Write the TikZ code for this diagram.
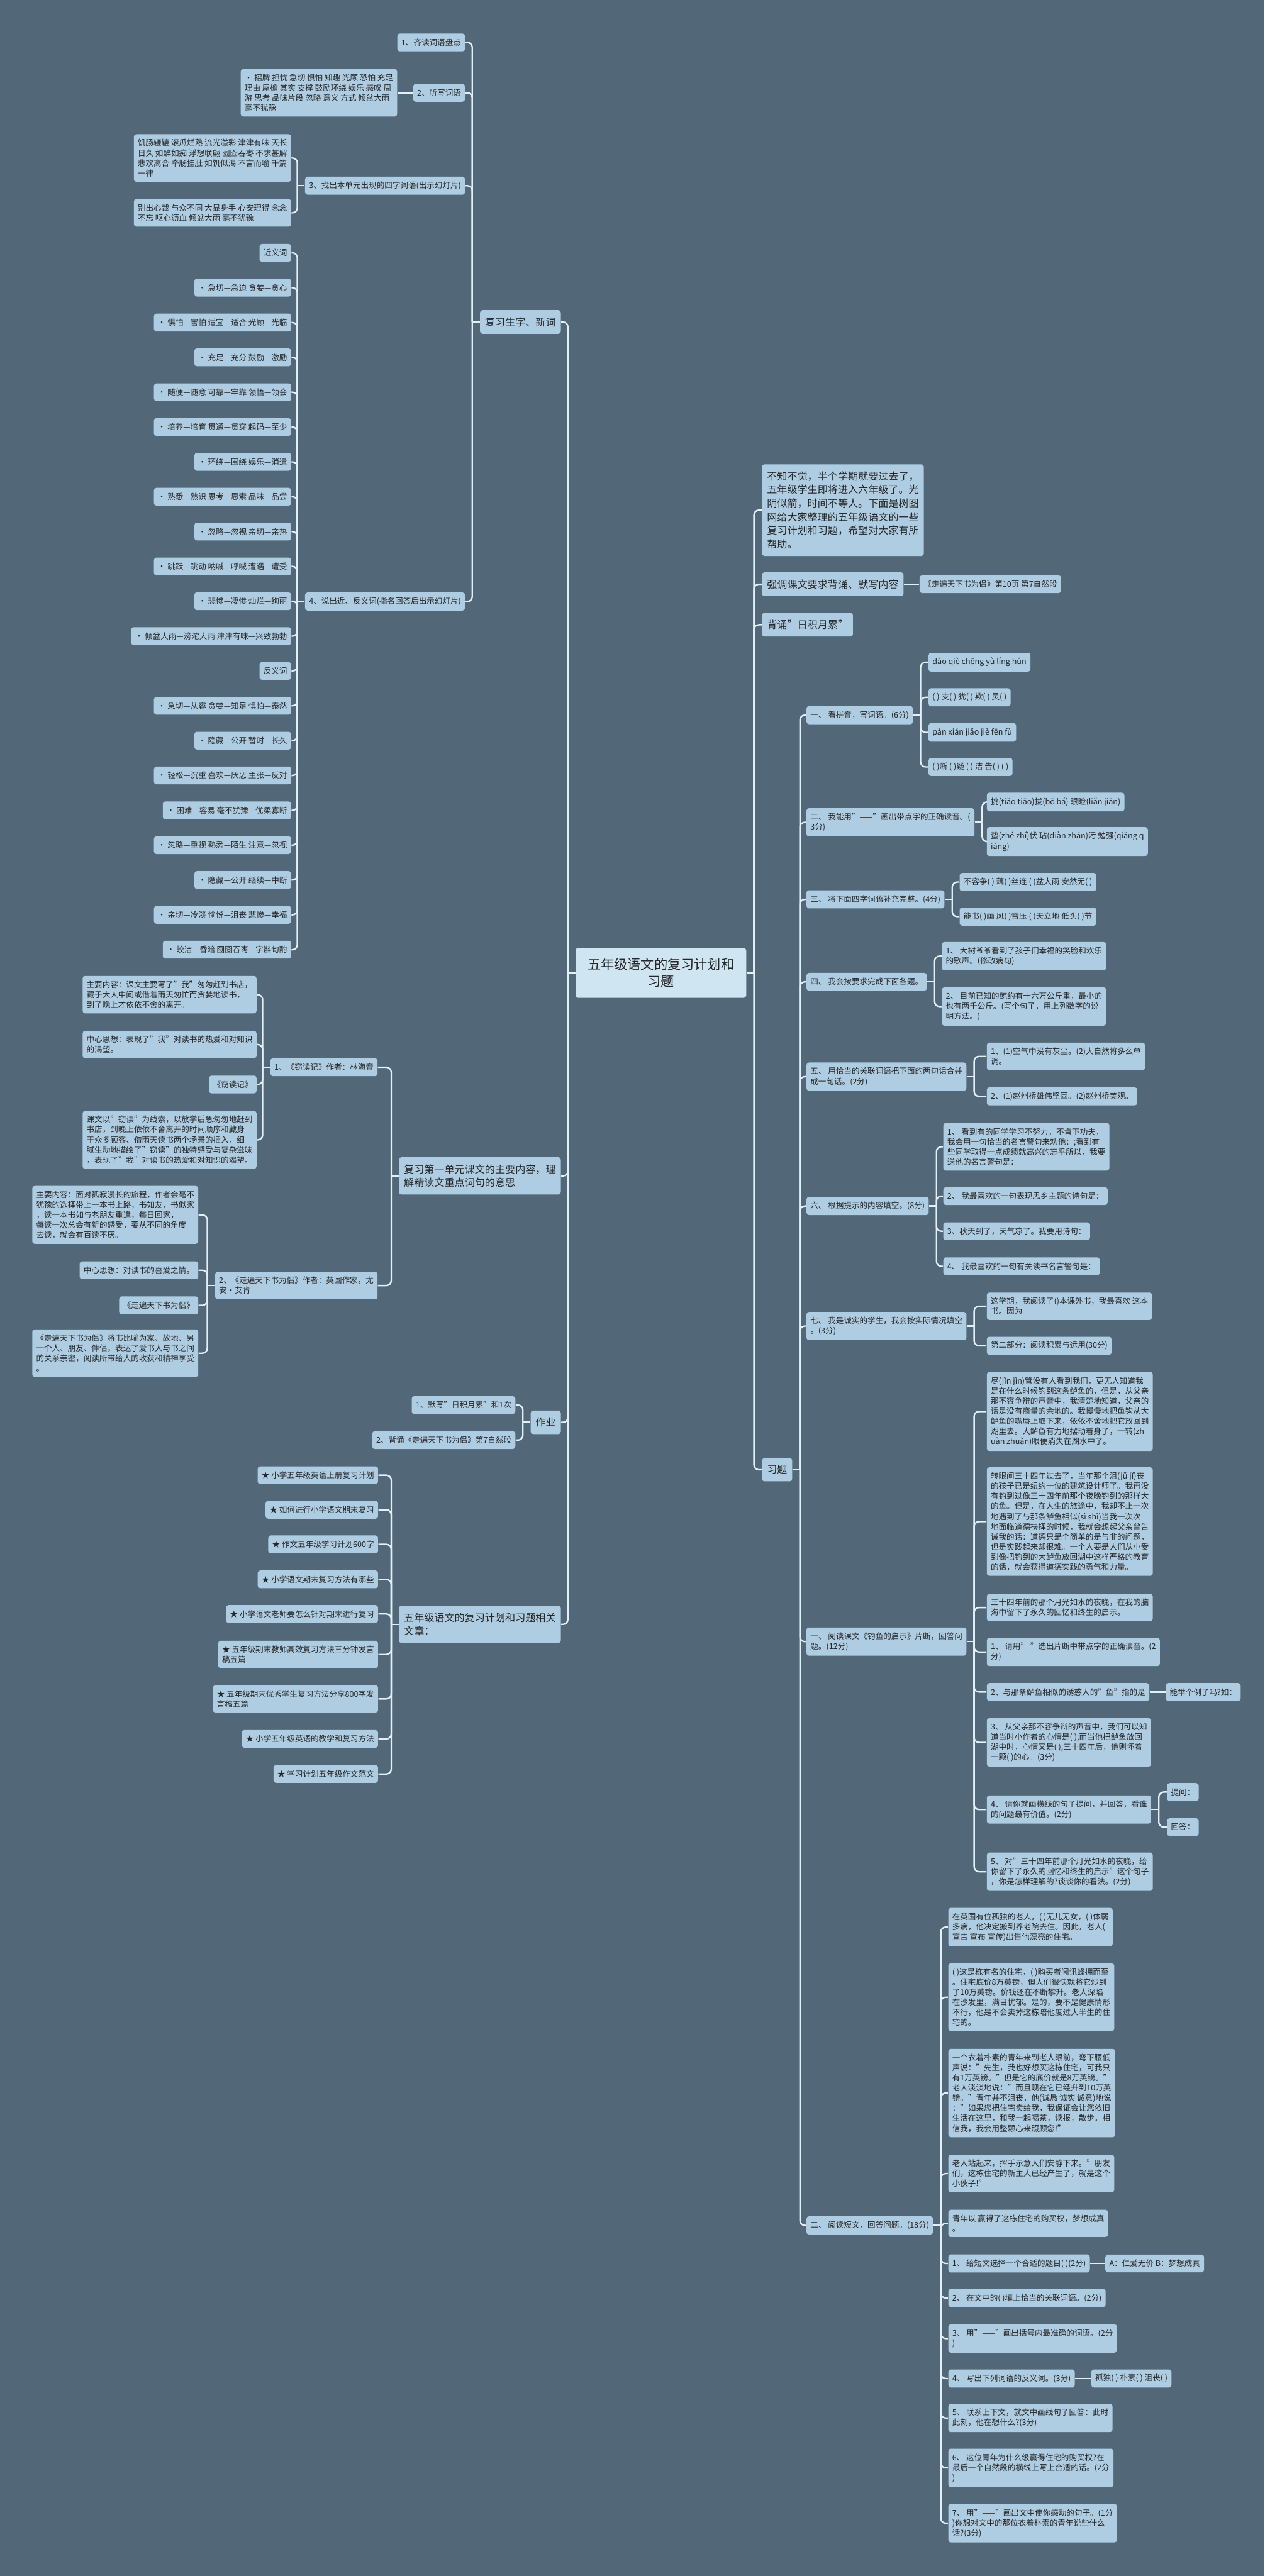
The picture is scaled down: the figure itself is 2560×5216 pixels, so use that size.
\documentclass[tikz,border=0pt]{standalone}
\usepackage{fontspec}
\setmainfont{Noto Sans CJK SC}
\usepackage{tikz}
\usetikzlibrary{positioning}
\definecolor{bgcol}{RGB}{82,104,120}
\definecolor{boxcol}{RGB}{174,204,226}
\definecolor{rootcol}{RGB}{207,229,242}
\definecolor{linecol}{RGB}{226,240,250}
\definecolor{inkcol}{RGB}{38,38,38}
\tikzstyle{leafbox} = [rectangle, rounded corners=0.05cm, fill=boxcol, text=inkcol, align=left, inner xsep=0.08cm, inner ysep=0.1cm, minimum height=0.36cm, font=\fontsize{4.55}{5.83}\selectfont]
\tikzstyle{topicbox} = [leafbox, inner xsep=0.1cm, inner ysep=0.145cm, minimum height=0.47cm, font=\fontsize{5.83}{7.82}\selectfont]
\tikzstyle{mainbox} = [leafbox, fill=rootcol, align=center, inner xsep=0.2cm, inner ysep=0.21cm, minimum width=3.45cm, font=\fontsize{7.68}{9.67}\selectfont]
\tikzstyle{edgeline} = [draw=linecol, line width=0.85pt]

\begin{document}
\begin{tikzpicture}[x=0.01cm, y=-0.01cm]
	\fill[bgcol] (0,0) rectangle (2560,5216);
	\useasboundingbox (0,0) rectangle (2560,5216);

	\node[mainbox] (root) at (1338,1970) {五年级语文的复习计划和\\习题};

	\node[topicbox, anchor=east] (words) at (1136,652) {复习生字、新词};
	\node[topicbox, anchor=east] (unit) at (1136,2381) {复习第一单元课文的主要内容，理\\解精读文重点词句的意思};
	\node[topicbox, anchor=east] (homework) at (1136,2880) {作业};
	\node[topicbox, anchor=east] (articles) at (1136,3289) {五年级语文的复习计划和习题相关\\文章：};

	\node[leafbox, anchor=east] (w_read) at (942,86) {1、齐读词语盘点};
	\node[leafbox, anchor=east] (w_dict) at (942,188) {2、听写词语};
	\node[leafbox, left=0.31cm of w_dict] (w_dict_list) {• 招牌 担忧 急切 惧怕 知趣 光顾 恐怕 充足\\理由 屋檐 其实 支撑 鼓励环绕 娱乐 感叹 周\\游 思考 品味片段 忽略 意义 方式 倾盆大雨\\毫不犹豫};
	\node[leafbox, anchor=east] (w_four) at (942,376) {3、找出本单元出现的四字词语(出示幻灯片)};
	\node[leafbox, anchor=east] (w_four_a) at (590,320) {饥肠辘辘 滚瓜烂熟 流光溢彩 津津有味 天长\\日久 如醉如痴 浮想联翩 囫囵吞枣 不求甚解\\悲欢离合 牵肠挂肚 如饥似渴 不言而喻 千篇\\一律};
	\node[leafbox, anchor=east] (w_four_b) at (590,431) {别出心裁 与众不同 大显身手 心安理得 念念\\不忘 呕心沥血 倾盆大雨 毫不犹豫};
	\node[leafbox, anchor=east] (w_syn) at (942,1218) {4、说出近、反义词(指名回答后出示幻灯片)};

	\draw[edgeline] (w_syn.west) -- ++(-15,0);
	\foreach \t [count=\i from 0] in {近义词, • 急切—急迫 贪婪—贪心, • 惧怕—害怕 适宜—适合 光顾—光临,
		• 充足—充分 鼓励—激励, • 随便—随意 可靠—牢靠 领悟—领会, • 培养—培育 贯通—贯穿 起码—至少,
		• 环绕—围绕 娱乐—消遣, • 熟悉—熟识 思考—思索 品味—品尝, • 忽略—忽视 亲切—亲热,
		• 跳跃—跳动 呐喊—呼喊 遭遇—遭受, • 悲惨—凄惨 灿烂—绚丽, • 倾盆大雨—滂沱大雨 津津有味—兴致勃勃,
		反义词, • 急切—从容 贪婪—知足 惧怕—泰然, • 隐藏—公开 暂时—长久, • 轻松—沉重 喜欢—厌恶 主张—反对,
		• 困难—容易 毫不犹豫—优柔寡断, • 忽略—重视 熟悉—陌生 注意—忽视, • 隐藏—公开 继续—中断,
		• 亲切—冷淡 愉悦—沮丧 悲惨—幸福, • 皎洁—昏暗 囫囵吞枣—字斟句酌}{
		\node[leafbox, anchor=east] (syn_\i) at (590,{512+70.55*\i}) {\t};
		\draw[edgeline, rounded corners=0.1cm] (w_syn.west) ++(-15,0) |- (syn_\i.east);
	}

	\node[leafbox, anchor=east] (u_thief) at (765,2161) {1、《窃读记》作者：林海音};
	\node[leafbox, anchor=east] (thief_a) at (520,2014) {主要内容：课文主要写了"我"匆匆赶到书店，\\藏于大人中间或借着雨天匆忙而贪婪地读书，\\到了晚上才依依不舍的离开。};
	\node[leafbox, anchor=east] (thief_b) at (520,2115) {中心思想：表现了"我"对读书的热爱和对知识\\的渴望。};
	\node[leafbox, anchor=east] (thief_c) at (520,2196) {《窃读记》};
	\node[leafbox, anchor=east] (thief_d) at (520,2308) {课文以"窃读"为线索，以放学后急匆匆地赶到\\书店，到晚上依依不舍离开的时间顺序和藏身\\于众多顾客、借雨天读书两个场景的插入，细\\腻生动地描绘了"窃读"的独特感受与复杂滋味\\，表现了"我"对读书的热爱和对知识的渴望。};
	\node[leafbox, anchor=east] (u_travel) at (765,2603) {2、《走遍天下书为侣》作者：英国作家，尤\\安·艾肯};
	\node[leafbox, anchor=east] (travel_a) at (402,2460) {主要内容：面对孤寂漫长的旅程，作者会毫不\\犹豫的选择带上一本书上路，书如友，书似家\\，读一本书如与老朋友重逢，每日回家，\\每读一次总会有新的感受，要从不同的角度\\去读，就会有百读不厌。};
	\node[leafbox, anchor=east] (travel_b) at (402,2572) {中心思想：对读书的喜爱之情。};
	\node[leafbox, anchor=east] (travel_c) at (402,2643) {《走遍天下书为侣》};
	\node[leafbox, anchor=east] (travel_d) at (402,2740) {《走遍天下书为侣》将书比喻为家、故地、另\\一个人、朋友、伴侣，表达了爱书人与书之间\\的关系亲密，阅读所带给人的收获和精神享受\\。};

	\node[leafbox, anchor=east] (hw_a) at (1044,2845) {1、默写"日积月累"和1次};
	\node[leafbox, anchor=east] (hw_b) at (1044,2916) {2、背诵《走遍天下书为侣》第7自然段};

	\node[leafbox, anchor=east] (art_1) at (766,2987) {★ 小学五年级英语上册复习计划};
	\node[leafbox, anchor=east] (art_2) at (766,3057) {★ 如何进行小学语文期末复习};
	\node[leafbox, anchor=east] (art_3) at (766,3127) {★ 作文五年级学习计划600字};
	\node[leafbox, anchor=east] (art_4) at (766,3198) {★ 小学语文期末复习方法有哪些};
	\node[leafbox, anchor=east] (art_5) at (766,3268) {★ 小学语文老师要怎么针对期末进行复习};
	\node[leafbox, anchor=east] (art_6) at (766,3350) {★ 五年级期末教师高效复习方法三分钟发言\\稿五篇};
	\node[leafbox, anchor=east] (art_7) at (766,3440) {★ 五年级期末优秀学生复习方法分享800字发\\言稿五篇};
	\node[leafbox, anchor=east] (art_8) at (766,3521) {★ 小学五年级英语的教学和复习方法};
	\node[leafbox, anchor=east] (art_9) at (766,3592) {★ 学习计划五年级作文范文};

	\node[topicbox, anchor=west] (intro) at (1542,1033) {不知不觉，半个学期就要过去了，\\五年级学生即将进入六年级了。光\\阴似箭，时间不等人。下面是树图\\网给大家整理的五年级语文的一些\\复习计划和习题，希望对大家有所\\帮助。};
	\node[topicbox, anchor=west] (recite) at (1542,1183) {强调课文要求背诵、默写内容};
	\node[leafbox, right=0.31cm of recite] (recite_text) {《走遍天下书为侣》第10页 第7自然段};
	\node[topicbox, anchor=west] (recite_daily) at (1542,1265) {背诵"日积月累"};
	\node[topicbox, anchor=west] (exercises) at (1542,2976) {习题};

	\node[leafbox, anchor=west] (q_1) at (1632,1448) {一、 看拼音，写词语。(6分)};
	\node[leafbox, anchor=west] (q_1a) at (1879,1341) {dào qiè chēng yù líng hún};
	\node[leafbox, anchor=west] (q_1b) at (1879,1412) {( ) 支( ) 犹( ) 欺( ) 灵( )};
	\node[leafbox, anchor=west] (q_1c) at (1879,1483) {pàn xián jiǎo jiè fēn fù};
	\node[leafbox, anchor=west] (q_1d) at (1879,1553) {( )断 ( )疑 ( ) 洁 告( ) ( )};
	\node[leafbox, anchor=west] (q_2) at (1632,1665) {二、 我能用"——"画出带点字的正确读音。(\\3分)};
	\node[leafbox, anchor=west] (q_2a) at (1997,1624) {挑(tiǎo tiāo)拔(bō bá) 眼睑(liǎn jiǎn)};
	\node[leafbox, anchor=west] (q_2b) at (1997,1704) {蛰(zhé zhí)伏 玷(diàn zhān)污 勉强(qiǎng q\\iáng)};
	\node[leafbox, anchor=west] (q_3) at (1632,1821) {三、 将下面四字词语补充完整。(4分)};
	\node[leafbox, anchor=west] (q_3a) at (1942,1786) {不容争( ) 藕( )丝连 ( )盆大雨 安然无( )};
	\node[leafbox, anchor=west] (q_3b) at (1942,1856) {能书( )画 风( )雪压 ( )天立地 低头( )节};
	\node[leafbox, anchor=west] (q_4) at (1632,1988) {四、 我会按要求完成下面各题。};
	\node[leafbox, anchor=west] (q_4a) at (1906,1936) {1、 大树爷爷看到了孩子们幸福的笑脸和欢乐\\的歌声。(修改病句)};
	\node[leafbox, anchor=west] (q_4b) at (1906,2038) {2、 目前已知的鲸约有十六万公斤重，最小的\\也有两千公斤。(写个句子，用上列数字的说\\明方法。)};
	\node[leafbox, anchor=west] (q_5) at (1632,2180) {五、 用恰当的关联词语把下面的两句话合并\\成一句话。(2分)};
	\node[leafbox, anchor=west] (q_5a) at (1997,2139) {1、(1)空气中没有灰尘。(2)大自然将多么单\\调。};
	\node[leafbox, anchor=west] (q_5b) at (1997,2220) {2、(1)赵州桥雄伟坚固。(2)赵州桥美观。};
	\node[leafbox, anchor=west] (q_6) at (1632,2442) {六、 根据提示的内容填空。(8分)};
	\node[leafbox, anchor=west] (q_6a) at (1909,2322) {1、 看到有的同学学习不努力，不肯下功夫，\\我会用一句恰当的名言警句来劝他：;看到有\\些同学取得一点成绩就高兴的忘乎所以，我要\\送他的名言警句是：};
	\node[leafbox, anchor=west] (q_6b) at (1909,2422) {2、 我最喜欢的一句表现思乡主题的诗句是：};
	\node[leafbox, anchor=west] (q_6c) at (1909,2493) {3、秋天到了，天气凉了。我要用诗句：};
	\node[leafbox, anchor=west] (q_6d) at (1909,2564) {4、 我最喜欢的一句有关读书名言警句是：};
	\node[leafbox, anchor=west] (q_7) at (1632,2685) {七、 我是诚实的学生，我会按实际情况填空\\。(3分)};
	\node[leafbox, anchor=west] (q_7a) at (1997,2645) {这学期，我阅读了()本课外书，我最喜欢 这本\\书。因为};
	\node[leafbox, anchor=west] (q_7b) at (1997,2725) {第二部分：阅读积累与运用(30分)};

	\node[leafbox, anchor=west] (read_1) at (1632,3324) {一、 阅读课文《钓鱼的启示》片断，回答问\\题。(12分)};
	\node[leafbox, anchor=west] (read_1a) at (1997,2858) {尽(jǐn jìn)管没有人看到我们，更无人知道我\\是在什么时候钓到这条鲈鱼的，但是，从父亲\\那不容争辩的声音中，我清楚地知道，父亲的\\话是没有商量的余地的。我慢慢地把鱼钩从大\\鲈鱼的嘴唇上取下来，依依不舍地把它放回到\\湖里去。大鲈鱼有力地摆动着身子，一转(zh\\uàn zhuǎn)眼便消失在湖水中了。};
	\node[leafbox, anchor=west] (read_1b) at (1997,3081) {转眼间三十四年过去了，当年那个沮(jǔ jǐ)丧\\的孩子已是纽约一位的建筑设计师了。我再没\\有钓到过像三十四年前那个夜晚钓到的那样大\\的鱼。但是，在人生的旅途中，我却不止一次\\地遇到了与那条鲈鱼相似(sì shì)当我一次次\\地面临道德抉择的时候，我就会想起父亲曾告\\诫我的话：道德只是个简单的是与非的问题，\\但是实践起来却很难。一个人要是人们从小受\\到像把钓到的大鲈鱼放回湖中这样严格的教育\\的话，就会获得道德实践的勇气和力量。};
	\node[leafbox, anchor=west] (read_1c) at (1997,3255) {三十四年前的那个月光如水的夜晚，在我的脑\\海中留下了永久的回忆和终生的启示。};
	\node[leafbox, anchor=west] (read_1d) at (1997,3345) {1、 请用" "选出片断中带点字的正确读音。(2\\分)};
	\node[leafbox, anchor=west] (read_1e) at (1997,3426) {2、与那条鲈鱼相似的诱惑人的"鱼"指的是};
	\node[leafbox, right=0.32cm of read_1e] (read_1e_x) {能举个例子吗?如：};
	\node[leafbox, anchor=west] (read_1f) at (1997,3528) {3、 从父亲那不容争辩的声音中，我们可以知\\道当时小作者的心情是( );而当他把鲈鱼放回\\湖中时，心情又是( );三十四年后，他则怀着\\一颗( )的心。(3分)};
	\node[leafbox, anchor=west] (read_1g) at (1997,3664) {4、 请你就画横线的句子提问，并回答，看谁\\的问题最有价值。(2分)};
	\node[leafbox, anchor=west] (read_1g_ask) at ([xshift=0.31cm, yshift=0.355cm]read_1g.east) {提问：};
	\node[leafbox, anchor=west] (read_1g_ans) at ([xshift=0.31cm, yshift=-0.355cm]read_1g.east) {回答：};
	\node[leafbox, anchor=west] (read_1h) at (1997,3790) {5、 对"三十四年前那个月光如水的夜晚，给\\你留下了永久的回忆和终生的启示"这个句子\\，你是怎样理解的?谈谈你的看法。(2分)};

	\node[leafbox, anchor=west] (read_2) at (1632,4506) {二、 阅读短文，回答问题。(18分)};
	\node[leafbox, anchor=west] (read_2a) at (1919,3902) {在英国有位孤独的老人，( )无儿无女，( )体弱\\多病，他决定搬到养老院去住。因此，老人(\\宣告 宣布 宣传)出售他漂亮的住宅。};
	\node[leafbox, anchor=west] (read_2b) at (1919,4044) {( )这是栋有名的住宅，( )购买者闻讯蜂拥而至\\。住宅底价8万英镑，但人们很快就将它炒到\\了10万英镑。价钱还在不断攀升。老人深陷\\在沙发里，满目忧郁。是的，要不是健康情形\\不行，他是不会卖掉这栋陪他度过大半生的住\\宅的。};
	\node[leafbox, anchor=west] (read_2c) at (1919,4238) {一个衣着朴素的青年来到老人眼前，弯下腰低\\声说："先生，我也好想买这栋住宅，可我只\\有1万英镑。"但是它的底价就是8万英镑。"\\老人淡淡地说："而且现在它已经升到10万英\\镑。"青年并不沮丧，他(诚恳 诚实 诚意)地说\\："如果您把住宅卖给我，我保证会让您依旧\\生活在这里，和我一起喝茶，读报，散步。相\\信我，我会用整颗心来照顾您!"};
	\node[leafbox, anchor=west] (read_2d) at (1919,4401) {老人站起来，挥手示意人们安静下来。"朋友\\们，这栋住宅的新主人已经产生了，就是这个\\小伙子!"};
	\node[leafbox, anchor=west] (read_2e) at (1919,4502) {青年以 赢得了这栋住宅的购买权，梦想成真\\。};
	\node[leafbox, anchor=west] (read_2f) at (1919,4583) {1、 给短文选择一个合适的题目( )(2分)};
	\node[leafbox, right=0.3cm of read_2f] (read_2f_x) {A：仁爱无价 B：梦想成真};
	\node[leafbox, anchor=west] (read_2g) at (1919,4653) {2、 在文中的( )填上恰当的关联词语。(2分)};
	\node[leafbox, anchor=west] (read_2h) at (1919,4735) {3、 用"——"画出括号内最准确的词语。(2分\\)};
	\node[leafbox, anchor=west] (read_2i) at (1919,4816) {4、 写出下列词语的反义词。(3分)};
	\node[leafbox, right=0.32cm of read_2i] (read_2i_x) {孤独( ) 朴素( ) 沮丧( )};
	\node[leafbox, anchor=west] (read_2j) at (1919,4896) {5、 联系上下文，就文中画线句子回答：此时\\此刻，他在想什么?(3分)};
	\node[leafbox, anchor=west] (read_2k) at (1919,4997) {6、 这位青年为什么级赢得住宅的购买权?在\\最后一个自然段的横线上写上合适的话。(2分\\)};
	\node[leafbox, anchor=west] (read_2l) at (1919,5109) {7、 用"——"画出文中使你感动的句子。(1分\\)你想对文中的那位衣着朴素的青年说些什么\\话?(3分)};

	\foreach \a/\b in {root/words, root/unit, root/homework, root/articles,
		words/w_read, words/w_dict, words/w_four, words/w_syn, w_four/w_four_a, w_four/w_four_b,
		unit/u_thief, unit/u_travel, u_thief/thief_a, u_thief/thief_b, u_thief/thief_c, u_thief/thief_d,
		u_travel/travel_a, u_travel/travel_b, u_travel/travel_c, u_travel/travel_d,
		homework/hw_a, homework/hw_b, articles/art_1, articles/art_2, articles/art_3, articles/art_4,
		articles/art_5, articles/art_6, articles/art_7, articles/art_8, articles/art_9}{
		\draw[edgeline] (\a.west) -- ++(-15,0);
		\draw[edgeline, rounded corners=0.1cm] (\a.west) ++(-15,0) |- (\b.east);
	}
	\foreach \a/\b in {root/intro, root/recite, root/recite_daily, root/exercises,
		exercises/q_1, exercises/q_2, exercises/q_3, exercises/q_4, exercises/q_5, exercises/q_6,
		exercises/q_7, exercises/read_1, exercises/read_2,
		q_1/q_1a, q_1/q_1b, q_1/q_1c, q_1/q_1d, q_2/q_2a, q_2/q_2b, q_3/q_3a, q_3/q_3b,
		q_4/q_4a, q_4/q_4b, q_5/q_5a, q_5/q_5b, q_6/q_6a, q_6/q_6b, q_6/q_6c, q_6/q_6d,
		q_7/q_7a, q_7/q_7b, read_1/read_1a, read_1/read_1b, read_1/read_1c, read_1/read_1d,
		read_1/read_1e, read_1/read_1f, read_1/read_1g, read_1/read_1h,
		read_1g/read_1g_ask, read_1g/read_1g_ans,
		read_2/read_2a, read_2/read_2b, read_2/read_2c, read_2/read_2d, read_2/read_2e, read_2/read_2f,
		read_2/read_2g, read_2/read_2h, read_2/read_2i, read_2/read_2j, read_2/read_2k, read_2/read_2l}{
		\draw[edgeline] (\a.east) -- ++(15,0);
		\draw[edgeline, rounded corners=0.1cm] (\a.east) ++(15,0) |- (\b.west);
	}
	\draw[edgeline] (w_dict.west) -- (w_dict_list.east);
	\foreach \a/\b in {recite/recite_text, read_1e/read_1e_x, read_2f/read_2f_x, read_2i/read_2i_x}{
		\draw[edgeline] (\a.east) -- (\b.west);
	}
\end{tikzpicture}
\end{document}
